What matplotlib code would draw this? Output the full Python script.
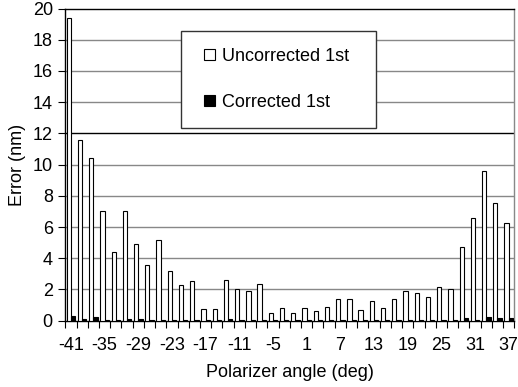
import matplotlib
matplotlib.use("Agg")
import matplotlib.pyplot as plt
from matplotlib.patches import Rectangle
import numpy as np

angles = list(range(-41, 38, 2))
uncorrected = [19.4, 11.6, 10.4, 7.0, 4.4, 7.0, 4.9, 3.6, 5.2, 3.2,
               2.3, 2.55, 0.73, 0.73, 2.6, 2.0, 1.93, 2.37, 0.47, 0.79,
               0.5, 0.79, 0.6, 0.86, 1.37, 1.37, 0.67, 1.24, 0.84, 1.41,
               1.9, 1.78, 1.54, 2.16, 2.05, 4.74, 6.58, 9.62, 7.56, 6.24]
corrected = [0.3, 0.12, 0.25, 0.05, 0.04, 0.12, 0.12, 0.05, 0.06, 0.05,
             0.05, 0.04, 0.03, 0.03, 0.11, 0.05, 0.04, 0.05, 0.04, 0.03,
             0.03, 0.02, 0.03, 0.03, 0.02, 0.02, 0.06, 0.03, 0.03, 0.06,
             0.02, 0.02, 0.05, 0.05, 0.05, 0.15, 0.04, 0.24, 0.18, 0.18]
series_names = ["Uncorrected 1st", "Corrected 1st"]

plt.rcParams['font.family'] = ['Liberation Sans', 'DejaVu Sans']

W, H = 518, 387
fig = plt.figure(figsize=(W / 100, H / 100), dpi=100)
ax = fig.add_axes([65.3 / W, 1 - 320.7 / H, (514.3 - 65.3) / W, (320.7 - 8.5) / H])

n = len(angles)
x = np.arange(n) + 0.5
bw = 0.38
ax.bar(x - bw / 2, uncorrected, width=bw, color='white', edgecolor='black',
       linewidth=0.8, zorder=3, label=series_names[0])
ax.bar(x + bw / 2, corrected, width=bw, color='black', edgecolor='black',
       linewidth=0.8, zorder=3, label=series_names[1])

ax.set_xlim(0, n)
ax.set_ylim(0, 20)
ax.set_yticks(np.arange(0, 21, 2))
ax.set_xticks(x[::3])
ax.set_xticklabels([str(a) for a in angles[::3]])
ax.set_xticks(np.arange(0, n + 1), minor=True)
ax.tick_params(axis='x', which='major', length=0, pad=12, labelsize=13)
ax.tick_params(axis='x', which='minor', length=5, width=0.8, direction='out')
ax.tick_params(axis='y', length=5, width=0.8, direction='out', labelsize=13, pad=4)

for yv in range(2, 20, 2):
    ax.axhline(yv, color='#000000' if yv == 12 else '#888888', linewidth=1.0, zorder=1)

for s in ['left', 'bottom', 'top']:
    ax.spines[s].set_color('black')
    ax.spines[s].set_linewidth(1.0)
ax.spines['right'].set_color('#888888')
ax.spines['right'].set_linewidth(1.0)

ax.set_xlabel('Polarizer angle (deg)', fontsize=13, labelpad=7)
ax.set_ylabel('Error (nm)', fontsize=13, labelpad=5)

# legend box
box = Rectangle((181 / W, 1 - 128 / H), (376 - 181) / W, (128 - 31) / H,
                transform=fig.transFigure, facecolor='white', edgecolor='#333333',
                linewidth=1.0, zorder=4, clip_on=False)
ax.add_artist(box)

leg = ax.legend(loc='upper left', bbox_to_anchor=(204 / W, 1 - 48 / H),
                bbox_transform=fig.transFigure, fontsize=13, frameon=False,
                handlelength=0.6, handleheight=0.6, handletextpad=0.4,
                labelspacing=1.6, borderpad=0, borderaxespad=0)
leg.set_zorder(5)

fig.savefig('out.png', dpi=100)
